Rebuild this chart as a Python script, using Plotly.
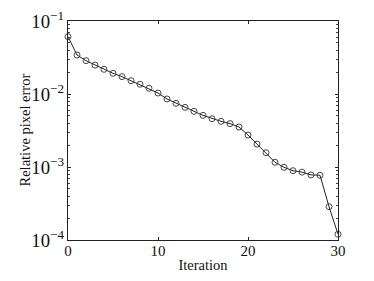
import plotly.graph_objects as go

iterations = list(range(31))
rel_error = [0.061, 0.0342, 0.0286, 0.0249, 0.0218, 0.0192, 0.0173, 0.0152, 0.0136, 0.0120,
             0.0103, 0.00855, 0.00745, 0.00656, 0.00579, 0.0051, 0.00459, 0.00422, 0.00393, 0.00353,
             0.00274, 0.00206, 0.00157, 0.00116, 0.00099, 0.00089, 0.00085, 0.00078, 0.00077, 0.000286,
             0.000120]

fig = go.Figure(go.Scatter(
    x=iterations, y=rel_error, mode="lines+markers",
    line=dict(color="#222", width=1),
    marker=dict(symbol="circle-open", size=6, color="#333", line=dict(width=0.9, color="#333")),
    cliponaxis=False,
))

font = dict(family="Liberation Serif, Times New Roman, serif", size=15, color="#111")
title_font = dict(family="Liberation Serif, Times New Roman, serif", size=14.5, color="#111")
# page body has an 8px default margin, so the figure is sized to fill the rest of the window
fig.update_layout(
    width=366, height=273, margin=dict(l=60, r=36, t=13, b=41, autoexpand=False),
    paper_bgcolor="white", plot_bgcolor="white", showlegend=False, font=font,
)
fig.update_xaxes(
    range=[0, 30], tickvals=[0, 10, 20, 30], ticks="inside", ticklen=3, tickcolor="#222",
    showline=True, linecolor="#222", linewidth=1, mirror="allticks", showgrid=False, zeroline=False,
    title=dict(text="Iteration", standoff=1, font=title_font), tickfont=font, automargin=False,
    ticklabeloverflow="allow", ticklabelstandoff=-3,
)
fig.update_yaxes(
    type="log", range=[-4, -1], dtick=1, exponentformat="power", ticks="inside", ticklen=3,
    tickcolor="#222", showline=True, linecolor="#222", linewidth=1, mirror="allticks",
    showgrid=False, zeroline=False, automargin=False, ticklabeloverflow="allow",
    minor=dict(ticks="inside", ticklen=2, tickcolor="#444", showgrid=False),
    tickfont=font,
)
fig.add_annotation(
    text="Relative pixel error", textangle=-90, font=title_font, showarrow=False,
    xref="paper", yref="paper", x=0, y=0.5, xanchor="center", yanchor="middle", xshift=-44,
)
fig.write_html("out.html")
